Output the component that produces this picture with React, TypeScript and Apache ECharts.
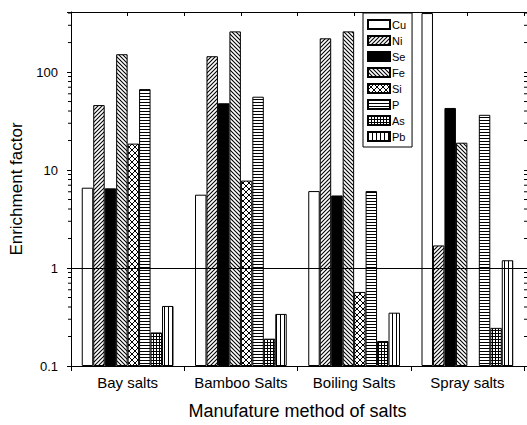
import React, { useEffect, useRef } from "react";
import * as echarts from "echarts";

const categories = ["Bay salts", "Bamboo Salts", "Boiling Salts", "Spray salts"];
const elements = ["Cu", "Ni", "Se", "Fe", "Si", "P", "As", "Pb"];
const cuValues = [6.6, 5.6, 6.1, 400];
const niValues = [46, 145, 221, 1.7];
const seValues = [6.5, 48, 5.5, 43];
const feValues = [152, 260, 260, 19];
const siValues: (number | null)[] = [18.6, 7.8, 0.57, null];
const pValues = [67, 56, 6.1, 36.6];
const asValues = [0.22, 0.19, 0.18, 0.245];
const pbValues = [0.41, 0.34, 0.35, 1.2];
const yMin = 0.1;
const yMax = 410;
const yTickLabels = [0.1, 1, 10, 100];
const minorTickValues = [
  0.2, 0.3, 0.4, 0.5, 0.6, 0.7, 0.8, 0.9,
  2, 3, 4, 5, 6, 7, 8, 9,
  20, 30, 40, 50, 60, 70, 80, 90,
  200, 300, 400,
];

function makePattern(size: number, draw: (ctx: CanvasRenderingContext2D, s: number) => void) {
  const c = document.createElement("canvas");
  c.width = size;
  c.height = size;
  const ctx = c.getContext("2d")!;
  ctx.fillStyle = "#fff";
  ctx.fillRect(0, 0, size, size);
  ctx.fillStyle = "#000";
  ctx.strokeStyle = "#000";
  draw(ctx, size);
  return { image: c.toDataURL(), repeat: "repeat", imageWidth: size, imageHeight: size };
}

function diag(ctx: CanvasRenderingContext2D, s: number, up: boolean, w = 1.1) {
  ctx.lineWidth = w;
  for (let k = -1; k <= 1; k++) {
    ctx.beginPath();
    if (up) {
      ctx.moveTo(-1 + k * s, s + 1);
      ctx.lineTo(s + 1 + k * s, -1);
    } else {
      ctx.moveTo(-1 + k * s, -1);
      ctx.lineTo(s + 1 + k * s, s + 1);
    }
    ctx.stroke();
  }
}

export default function App() {
  const ref = useRef<HTMLDivElement>(null);
  useEffect(() => {
    if (!ref.current) return;
    const chart = echarts.init(ref.current, undefined, { renderer: "svg" });

    const patNi = makePattern(4, (ctx, s) => diag(ctx, s, true));
    const patFe = makePattern(4, (ctx, s) => diag(ctx, s, false));
    const patSi = makePattern(6, (ctx, s) => {
      diag(ctx, s, true, 1);
      diag(ctx, s, false, 1);
    });
    const patP = makePattern(3, (ctx, s) => ctx.fillRect(0, 0, s, 1));
    const patAs = makePattern(3, (ctx, s) => {
      ctx.fillRect(0, 0, s, 1);
      ctx.fillRect(0, 0, 1, s);
    });
    const patPb = makePattern(4, (ctx, s) => ctx.fillRect(0, 0, 1, s));

    const fills: any[] = ["#ffffff", patNi, "#000000", patFe, patSi, patP, patAs, patPb];
    const valueSets: (number | null)[][] = [cuValues, niValues, seValues, feValues, siValues, pValues, asValues, pbValues];

    const common = { barGap: "0%", barCategoryGap: "19%", xAxisIndex: 0, yAxisIndex: 0 };
    const series: any[] = [];
    elements.forEach((name, i) => {
      const vals = valueSets[i];
      // invisible base so each bar starts at the axis minimum (0.1) on the log axis
      series.push({
        ...common,
        name: "_base_" + name,
        type: "bar",
        stack: "s" + i,
        silent: true,
        data: vals.map((v) => (v == null ? "-" : yMin)),
        itemStyle: { color: "rgba(0,0,0,0)", borderWidth: 0 },
        emphasis: { disabled: true },
      });
      series.push({
        ...common,
        name,
        type: "bar",
        stack: "s" + i,
        data: vals.map((v) => (v == null ? "-" : v - yMin)),
        itemStyle: { color: fills[i], borderColor: "#000", borderWidth: 1 },
        emphasis: { disabled: true },
        ...(i === 0
          ? {
              markLine: {
                silent: true,
                symbol: ["none", "none"],
                label: { show: false },
                lineStyle: { color: "#000", width: 1, type: "solid" },
                data: [{ yAxis: 1 }],
              },
            }
          : {}),
      });
    });

    const isMajor = (v: number) => yTickLabels.some((t) => Math.abs(t - v) < 1e-9 * Math.max(1, t));

    series.push({
      name: "_minorTicks",
      type: "custom",
      xAxisIndex: 0,
      yAxisIndex: 0,
      silent: true,
      clip: false,
      z: 5,
      data: minorTickValues.map((v) => [0, v]),
      renderItem: (params: any, api: any) => {
        const y = api.coord([0, api.value(1)])[1];
        const cs = params.coordSys;
        return {
          type: "group",
          children: [
            {
              type: "line",
              shape: { x1: cs.x - 3, y1: y, x2: cs.x, y2: y },
              style: { stroke: "#000", lineWidth: 1 },
            },
            {
              type: "line",
              shape: { x1: cs.x + cs.width, y1: y, x2: cs.x + cs.width + 3, y2: y },
              style: { stroke: "#000", lineWidth: 1 },
            },
          ],
        };
      },
    });

    chart.setOption({
      animation: false,
      textStyle: { fontFamily: "'Liberation Sans', Arial, sans-serif", color: "#000" },
      grid: { left: 71, right: 3, top: 12, bottom: 57 },
      legend: {
        data: elements,
        orient: "vertical",
        left: 363,
        top: 13,
        itemWidth: 22,
        itemHeight: 9,
        itemGap: 5,
        padding: [6, 6, 5, 4],
        borderColor: "#000",
        borderWidth: 1,
        backgroundColor: "#fff",
        icon: "rect",
        textStyle: { fontSize: 11, color: "#000", padding: [0, 0, 0, -3] },
        selectedMode: false,
      },
      xAxis: [
        {
          type: "category",
          data: categories,
          position: "bottom",
          axisLine: { lineStyle: { color: "#000", width: 1 } },
          axisTick: { show: true, length: 5, lineStyle: { color: "#000" } },
          axisLabel: { color: "#000", fontSize: 15, margin: 9, interval: 0 },
          name: "Manufature method of salts",
          nameLocation: "middle",
          nameGap: 36,
          nameTextStyle: { fontSize: 18, color: "#000" },
        },
        {
          type: "category",
          data: ["", "", "", "", "", "", "", ""],
          position: "top",
          axisLine: { lineStyle: { color: "#000", width: 1 } },
          axisTick: { show: true, inside: true, length: 4, lineStyle: { color: "#000" } },
          axisLabel: { show: false },
        },
      ],
      yAxis: [
        {
          type: "log",
          min: yMin,
          max: yMax,
          position: "left",
          axisLine: { show: true, lineStyle: { color: "#000", width: 1 } },
          axisTick: { show: true, length: 4, lineStyle: { color: "#000" } },
          axisLabel: {
            color: "#000",
            fontSize: 13,
            margin: 13,
            formatter: (v: number) => (isMajor(v) ? String(v) : ""),
          },
          splitLine: { show: false },
          name: "Enrichment factor",
          nameLocation: "middle",
          nameGap: 34,
          nameTextStyle: { fontSize: 17, color: "#000" },
        },
        {
          type: "log",
          min: yMin,
          max: yMax,
          position: "right",
          axisLine: { show: false },
          axisTick: { show: true, length: 3, lineStyle: { color: "#000" } },
          axisLabel: { show: false },
          splitLine: { show: false },
        },
      ],
      series,
    });
    return () => chart.dispose();
  }, []);

  return (
    <div
      ref={ref}
      style={{ position: "fixed", left: 0, top: 0, width: 527, height: 425, background: "#fff" }}
    />
  );
}
